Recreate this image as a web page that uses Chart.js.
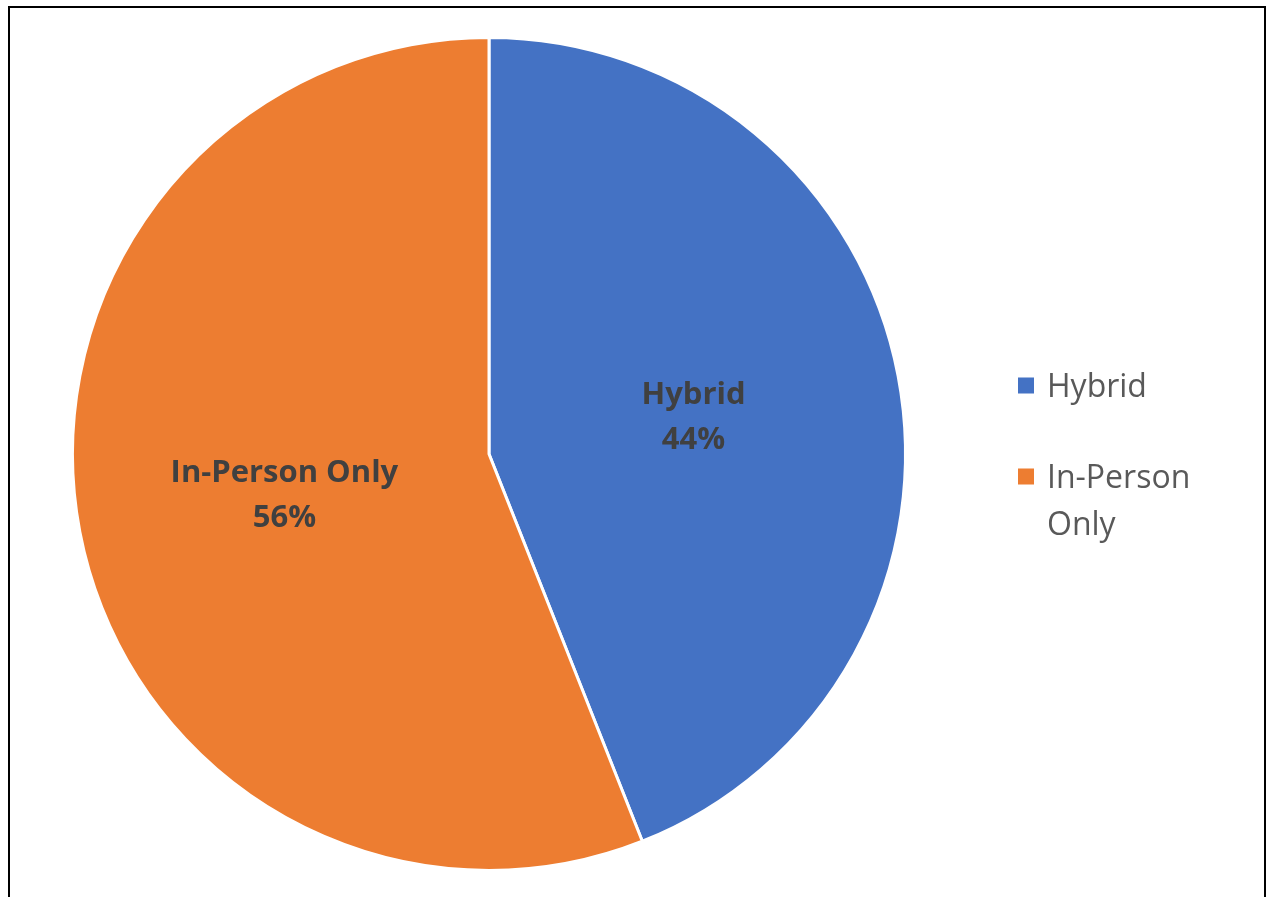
<!DOCTYPE html>
<html>
<head>
<meta charset="utf-8">
<title>Hybrid vs In-Person</title>
<script src="https://cdn.jsdelivr.net/npm/chart.js@4/dist/chart.umd.min.js"></script>
<style>
  html, body { margin: 0; padding: 0; background: #fff; }
  #wrap { position: relative; width: 1267px; height: 897px; overflow: hidden; }
  #frame {
    position: absolute; left: 8px; top: 6px; width: 1258px; height: 960px;
    box-sizing: border-box; border: 2px solid #000; pointer-events: none;
  }
</style>
</head>
<body>
<div id="wrap">
  <canvas id="chart"></canvas>
  <div id="frame"></div>
</div>
<script>
const categories = ['Hybrid', 'In-Person Only'];
const shares = [44, 56];
const sliceColors = ['#4472C4', '#ED7D31'];

const labelFont = 'bold 31px "Open Sans"';
const legendFont = '32px "Open Sans"';

// percent labels drawn at the middle of each slice
const sliceLabels = {
    id: 'sliceLabels',
    afterDatasetsDraw(chart) {
        const ctx = chart.ctx;
        const total = shares.reduce((a, b) => a + b, 0);
        const arcs = chart.getDatasetMeta(0).data;
        ctx.save();
        ctx.font = labelFont;
        ctx.fillStyle = '#404040';
        ctx.textAlign = 'center';
        ctx.textBaseline = 'alphabetic';
        arcs.forEach((arc, i) => {
            const pos = arc.tooltipPosition();
            const pct = Math.round(shares[i] / total * 100) + '%';
            ctx.fillText(categories[i], pos.x, pos.y - 11);
            ctx.fillText(pct, pos.x, pos.y + 34);
        });
        ctx.restore();
    }
};

function wrapText(ctx, text, maxWidth) {
    const words = text.split(' ');
    const lines = [];
    let line = '';
    words.forEach(w => {
        const test = line ? line + ' ' + w : w;
        if (line && ctx.measureText(test).width > maxWidth) {
            lines.push(line);
            line = w;
        } else {
            line = test;
        }
    });
    lines.push(line);
    return lines;
}

// legend on the right, long names wrap onto a second line
const sideLegend = {
    id: 'sideLegend',
    afterDraw(chart) {
        const ctx = chart.ctx;
        const boxX = 1018, box = 16, textX = 1047;
        const lineH = 47, itemGap = 91;
        let baseY = 397;
        ctx.save();
        ctx.font = legendFont;
        ctx.textAlign = 'left';
        ctx.textBaseline = 'alphabetic';
        categories.forEach((name, i) => {
            ctx.fillStyle = sliceColors[i];
            ctx.fillRect(boxX, baseY - 11.5 - box / 2, box, box);
            ctx.fillStyle = '#595959';
            const lines = wrapText(ctx, name, 180);
            lines.forEach((l, j) => ctx.fillText(l, textX, baseY + j * lineH));
            baseY += itemGap;
        });
        ctx.restore();
    }
};

new Chart(document.querySelector('#chart'), {
    type: 'pie',
    data: {
        labels: categories,
        datasets: [{
            data: shares,
            backgroundColor: sliceColors,
            borderColor: '#ffffff',
            borderWidth: 3
        }]
    },
    options: {
        responsive: true,
        maintainAspectRatio: false,
        animation: false,
        radius: 416.5,
        layout: { padding: { left: 69, right: 358, top: 34, bottom: 23 } },
        plugins: {
            legend: { display: false },
            tooltip: { enabled: false }
        }
    },
    plugins: [sliceLabels, sideLegend]
});
</script>
</body>
</html>
